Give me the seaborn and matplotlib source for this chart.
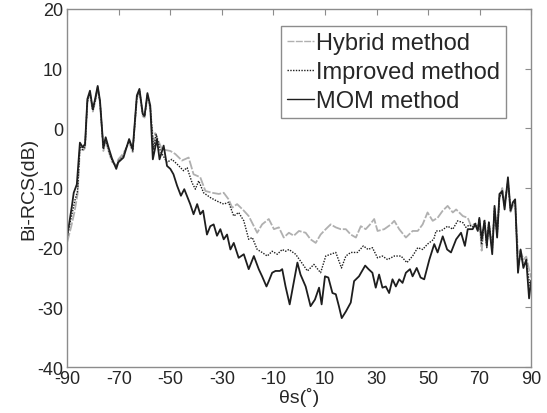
import matplotlib
matplotlib.use("Agg")
import matplotlib.pyplot as plt
import seaborn as sns
import pandas as pd

# ---------------- data ----------------
mom_x = [-90, -88.8, -88.2, -87.5, -86.3, -85.1, -84, -83.1, -82.2, -81.2, -80.1, -79.2, -78.2, -77.3,
         -76, -75.1, -74, -72.7, -71, -70.2, -68.2, -66, -64.6, -63, -62, -60.7, -60, -58.9,
         -57.8, -56.8, -55.2, -54.2, -52.6, -51.3, -50, -48.8, -47.4, -45.9, -44.6, -43.3, -42.3,
         -41, -39.6, -38.4, -37.3, -35.8, -34.5, -33.2, -31.9, -30.6, -29.3, -28, -26.7, -25.4,
         -23.5, -21.5, -19.6, -17.6, -15.7, -14.4, -12.7, -11.8, -10.5, -9.2, -7.5, -6.6, -5.3,
         -3.7, -2.4, -0.7, 0.5, 2.5, 4.4, 6.1, 7.7, 8.7, 10, 11.3, 12.9, 14.2, 15.4, 16.5, 18.1,
         20, 21.3, 23.2, 25.6, 26.9, 28.4, 29.7, 31, 32.3, 33.6, 34.9, 36.2, 37.5, 38.8, 40.1,
         41.4, 43, 44, 45.6, 47.1, 48.5, 50.5, 52.4, 53.7, 55.7, 57.4, 58.9, 60.9, 62.8, 64.3,
         65.4, 67.3, 68.3, 69.3, 69.9, 70.8, 71.9, 72.8, 73.6, 74.9, 75.8, 76.8, 77.7, 78.8,
         79.7, 81, 82, 82.9, 83.8, 84.9, 85.9, 87, 88.1, 89.2, 90]
mom_y = [-18, -14.7, -13, -10.8, -9.4, -2.4, -3.2, -2.6, 4.9, 6.3, 3.2, 4.9, 7.1, 4.6,
         -3.2, -1.5, -3.2, -5, -6.8, -5.7, -4.9, -1.8, -3.5, 5.5, 6.6, 2.4, 2.1, 5.9,
         3.8, -5.2, -1.8, -5.2, -2.9, -6.3, -6.8, -7.7, -9.6, -11.3, -10.2, -11.6, -12.7,
         -14.4, -12.7, -14.4, -13.8, -17.8, -16.4, -16.1, -18, -16.9, -18.6, -17.8, -20.3, -19.2,
         -21.7, -21.1, -23.6, -21.4, -23.6, -24.8, -26.5, -25.6, -24.2, -23.9, -23.9, -23.6, -26.5,
         -29.5, -26.5, -22.5, -24.5, -26.5, -29.8, -28.7, -26.7, -29.5, -24.8, -25, -27.6, -27.8, -29.8, -31.8, -30.7,
         -29.2, -25.6, -24.8, -23, -23.6, -24.2, -26.7, -24.5, -26.7, -26.5, -27.6, -25.3, -26.5, -25.3, -25.9,
         -24.2, -23.6, -24.8, -23.4, -25, -25.3, -22, -19.4, -20.8, -18.1, -20.3, -20.8, -18.6, -17.5, -19.7,
         -16.9, -16.9, -16.1, -17.2, -15, -18.6, -15.5, -19.7, -15.8, -21.1, -13, -18.3, -11, -10.5,
         -13.6, -8.2, -13.8, -12.4, -11.9, -24.2, -20.3, -23.4, -22, -28.5, -25.5]

imp_x = [-90, -88.5, -87, -86, -85.1, -84, -83.1, -82.2, -81.2, -80.1, -79.2, -78.2, -77.3, -76,
         -75.1, -74, -72.7, -71, -70.2, -68.2, -66, -64.6, -63, -62, -60.7, -60, -58.9, -57.8,
         -56.5, -55.5, -53.9, -51.3, -49.4, -47.4, -44.9, -43.5, -41.6, -40.3, -39, -37.1, -34.5,
         -31.9, -29.3, -27.4, -25.4, -23.5, -21.5, -19.6, -18.2, -16.3, -14.4, -12.4, -10.5, -8.5,
         -6.6, -5.3, -4, -1.4, 0.6, 3.2, 5.7, 8.3, 10.3, 12.2, 14.2, 16.4, 18.1, 20, 22.6, 24.9,
         26.7, 28.4, 30.4, 32.3, 34.3, 36.9, 39.5, 41.8, 44, 46, 47.9, 49.8, 52.2, 53.1, 55, 57.6,
         59.6, 61.5, 63.5, 64.7, 66, 67.3, 68.3, 69.3, 69.9, 70.8, 71.9, 72.8, 73.6, 74.9, 75.8,
         76.8, 77.7, 78.8, 79.7, 81, 82, 82.9, 83.8, 84.9, 85.9, 87, 88.1, 89.4, 90]
imp_y = [-18, -15, -12, -10.5, -3, -3.6, -3, 4.5, 6, 3, 4.6, 6.9, 4.4, -3.5,
         -1.8, -3.6, -5.3, -6.5, -5.5, -4.6, -2, -3.8, 5.2, 6.4, 2.2, 2, 5.6, 3.5,
         -3.5, -1, -3.8, -5.7, -5.2, -6, -7.1, -6.6, -9.1, -10.2, -8.8, -10.8, -11.6,
         -12.2, -12.7, -12.4, -14.7, -14.1, -15.5, -18.6, -18.3, -20.3, -20.8, -21.4, -20.6, -21.1,
         -20.3, -20.6, -20.3, -21.1, -22.3, -23.9, -22.8, -24.2, -21.4, -21.1, -20.8, -23.4, -21.4, -20.8, -20.8, -19.7,
         -20.3, -20, -21.7, -21.4, -22, -21.4, -21.4, -22.5, -21.4, -20, -20.3, -19.4, -18.6, -17.2, -17.2, -16.4,
         -16.9, -15.5, -15.8, -16.6, -16.2, -16.5, -15.8, -17, -15.2, -19.5, -15.3, -20, -15.6, -20.5, -13.3,
         -18, -11.5, -10.8, -13, -8.8, -13.5, -12.8, -12.3, -23.5, -20.8, -23, -22.5, -26, -27]

hyb_x = [-90, -88.5, -87.2, -86, -85.1, -84, -83.1, -82.2, -81.2, -80.1, -79.2, -78.2, -77.3, -76,
         -75.1, -74, -72.7, -71, -70.2, -68.2, -66, -64.6, -63, -62, -60.7, -60, -58.9, -57.8,
         -56.5, -55.9, -53.3, -50, -48.1, -45.5, -42.9, -41, -38.4, -36.4, -33.8, -31.2, -29.3,
         -27.4, -26, -24.1, -21.5, -19.6, -16.3, -14.4, -11.8, -9.8, -7.9, -6, -4, -2.1, -0.1,
         2.5, 4.4, 6.4, 8.3, 10.3, 12.2, 14.2, 16.1, 18.1, 20, 22, 23.9, 25.8, 27.5, 29.1, 30.4,
         33, 35.6, 36.9, 38.8, 41.4, 44, 46, 47.9, 49.8, 51.8, 53.7, 55.7, 57.6, 59.6, 60.9, 63.5,
         65.4, 66.7, 68.3, 69.3, 69.9, 70.8, 71.9, 72.8, 73.6, 74.9, 75.8, 76.8, 77.7, 78.8, 79.7,
         81, 82, 82.9, 83.8, 84.9, 85.9, 87, 88.1, 89.4, 90]
hyb_y = [-19, -16.5, -14, -11, -3.5, -3.8, -3.3, 4.3, 5.8, 2.8, 4.4, 6.7, 4.2, -3.8,
         -2, -3.8, -5.6, -6.2, -5.2, -4.2, -2.3, -4, 5, 6.2, 2, 1.8, 5.4, 3.3,
         -3, -0.8, -3.5, -3.8, -4.3, -5.4, -4.9, -7.7, -8.2, -10.5, -10.8, -11, -10.8,
         -11.9, -13.3, -12.7, -13.8, -14.7, -17.5, -16.1, -15.2, -16.9, -16.6, -18.3, -17.5, -18, -17.2,
         -17.5, -18.6, -19.2, -17.8, -16.9, -16.1, -16.6, -16.9, -16.9, -17.8, -18.3, -16.4, -16.9, -16.1, -15.2, -17.2,
         -16.9, -16.1, -15.5, -16.9, -18.3, -17.2, -17.2, -16.1, -14.1, -15.5, -15, -13.8, -13, -14.1, -13.6, -14.7,
         -15, -16.4, -16, -16.5, -15.3, -20.5, -15.8, -19.2, -16, -20, -13.8, -17.5, -11.8, -10, -12.5,
         -9.2, -14, -13, -12.5, -21, -20.5, -22, -21.5, -24, -25]

labels = ["Hybrid method", "Improved method", "MOM method"]
x_ticks = [-90, -70, -50, -30, -10, 10, 30, 50, 70, 90]
y_ticks = [-40, -30, -20, -10, 0, 10, 20]

# ---------------- style ----------------
sns.set_style("white")
plt.rcParams["font.family"] = ["Liberation Sans", "DejaVu Sans"]

fig = plt.figure(figsize=(5.47, 4.14), dpi=100)
ax = fig.add_axes([0.123, 0.111, 0.848, 0.865])

frame = "#8c8c8c"
df_h = pd.DataFrame({"x": hyb_x, "y": hyb_y})
df_i = pd.DataFrame({"x": imp_x, "y": imp_y})
df_m = pd.DataFrame({"x": mom_x, "y": mom_y})

sns.lineplot(data=df_h, x="x", y="y", ax=ax, color="#b0b0b0", linewidth=1.3,
             linestyle=(0, (5, 1)), label=labels[0], sort=False)
sns.lineplot(data=df_i, x="x", y="y", ax=ax, color="#1e1e1e", linewidth=1.0,
             linestyle=(0, (1, 1)), label=labels[1], sort=False)
sns.lineplot(data=df_m, x="x", y="y", ax=ax, color="#1e1e1e", linewidth=1.3,
             linestyle="-", label=labels[2], sort=False)

ax.set_xlim(-90, 90)
ax.set_ylim(-40, 20)
ax.set_xticks(x_ticks)
ax.set_yticks(y_ticks)
ax.set_xticklabels([str(v) for v in x_ticks])
ax.set_yticklabels([str(v) for v in y_ticks])
ax.tick_params(direction="in", length=4, width=0.8, color=frame, labelsize=13,
               top=True, right=True, pad=2)
ax.tick_params(axis="y", pad=3)
for s in ax.spines.values():
    s.set_color(frame)
    s.set_linewidth(1.0)

ax.set_xlabel("θs(˚)", fontsize=14, labelpad=0)
ax.set_ylabel("Bi-RCS(dB)", fontsize=14, labelpad=0)

leg = ax.legend(loc="upper right", bbox_to_anchor=(0.946, 0.9525), borderaxespad=0,
                fontsize=17, frameon=True, fancybox=False, framealpha=1,
                edgecolor=frame, handlelength=1.15, handletextpad=0.1,
                labelspacing=0.3, borderpad=0.25)
leg.get_frame().set_linewidth(1.0)
for ln in leg.get_lines():
    ln.set_linewidth(1.0)

fig.savefig("out.png", dpi=100)
